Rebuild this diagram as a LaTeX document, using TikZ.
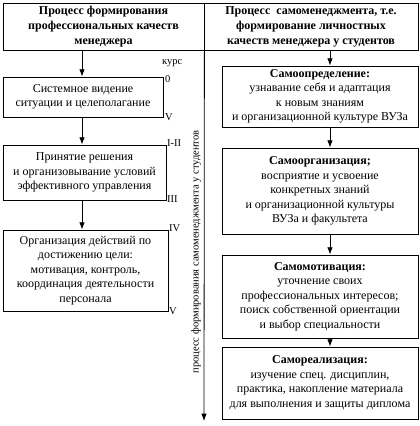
\documentclass[tikz,border=0pt]{standalone}
\usepackage{fontspec}
\setmainfont{Liberation Serif}
\usetikzlibrary{arrows.meta}

\begin{document}
\begin{tikzpicture}[x=1pt, y=-1pt,
    box/.style={draw, line width=0.8pt, align=center, inner sep=1pt, font=\fontsize{12}{14.5}\selectfont},
    kurs/.style={font=\fontsize{10.5}{11}\selectfont, inner sep=1pt, anchor=west},
    arr/.style={line width=0.8pt, -{Latex[scale=1.1]}}]
    \useasboundingbox (0,0) rectangle (420,426);

    \node[box, minimum width=201pt, minimum height=47pt, font=\fontsize{12}{15}\selectfont\bfseries] (hL) at (103.5,26.5) {Процесс формирования\\профессиональных качеств\\менеджера};
    \node[box, minimum width=214pt, minimum height=47pt, font=\fontsize{12}{15}\selectfont\bfseries] (hR) at (311,26.5) {Процесс\ \ самоменеджмента, т.е.\\формирование личностных\\качеств менеджера у студентов};

    % left column
    \node[box, minimum width=160pt, minimum height=40pt] (sys) at (83,97) {Системное видение\\ситуации и целеполагание};
    \node[box, minimum width=163pt, minimum height=55pt] (pri) at (84.5,172.5) {Принятие решения\\и организовывание условий\\эффективного управления};
    \node[box, minimum width=165pt, minimum height=81pt] (org) at (85.5,270.5) {Организация действий по\\достижению цели:\\мотивация, контроль,\\координация деятельности\\персонала};

    % right column
    \node[box, minimum width=196pt, minimum height=61pt] (opr) at (320,96.5) {\textbf{Самоопределение:}\\узнавание себя и адаптация\\к новым знаниям\\и организационной культуре ВУЗа};
    \node[box, minimum width=196pt, minimum height=86pt] (sorg) at (320,191) {\textbf{Самоорганизация;}\\восприятие и усвоение\\конкретных знаний\\и организационной культуры\\ВУЗа и факультета};
    \node[box, minimum width=196pt, minimum height=83pt] (mot) at (320,296.5) {\textbf{Самомотивация:}\\уточнение своих\\профессиональных интересов;\\поиск собственной ориентации\\и выбор специальности};
    \node[box, minimum width=196pt, minimum height=72pt] (real) at (320,383) {\textbf{Самореализация:}\\изучение спец. дисциплин,\\практика, накопление материала\\для выполнения и защиты диплома};

    % course marks
    \node[kurs] (kurs) at (161,63) {курс};
    \node[kurs] (k0) at (164,79) {0};
    \node[kurs] (k1) at (164,117) {V};
    \node[kurs] (k2) at (166,143) {I-II};
    \node[kurs] (k3) at (166,199) {III};
    \node[kurs] (k4) at (168,228) {IV};
    \node[kurs] (k5) at (168,311) {V};

    \coordinate (lx) at (82,0);
    \coordinate (rx) at (330,0);
    \coordinate (axend) at (204,421);

    \draw[arr] (hL.south -| lx) -- (sys.north -| lx);
    \draw[arr] (sys.south -| lx) -- (pri.north -| lx);
    \draw[arr] (pri.south -| lx) -- (org.north -| lx);

    \draw[arr] (hR.south -| rx) -- (opr.north -| rx);
    \draw[arr] (opr.south -| rx) -- (sorg.north -| rx);
    \draw[arr] (sorg.south -| rx) -- (mot.north -| rx);
    \draw[arr] (mot.south -| rx) -- (real.north -| rx);

    \draw[arr] (hL.south east) -- (axend);
    \node[rotate=90, font=\fontsize{10.5}{12}\selectfont] (proc) at (196,252) {процесс формирования самоменеджмента у студентов};

\end{tikzpicture}
\end{document}
